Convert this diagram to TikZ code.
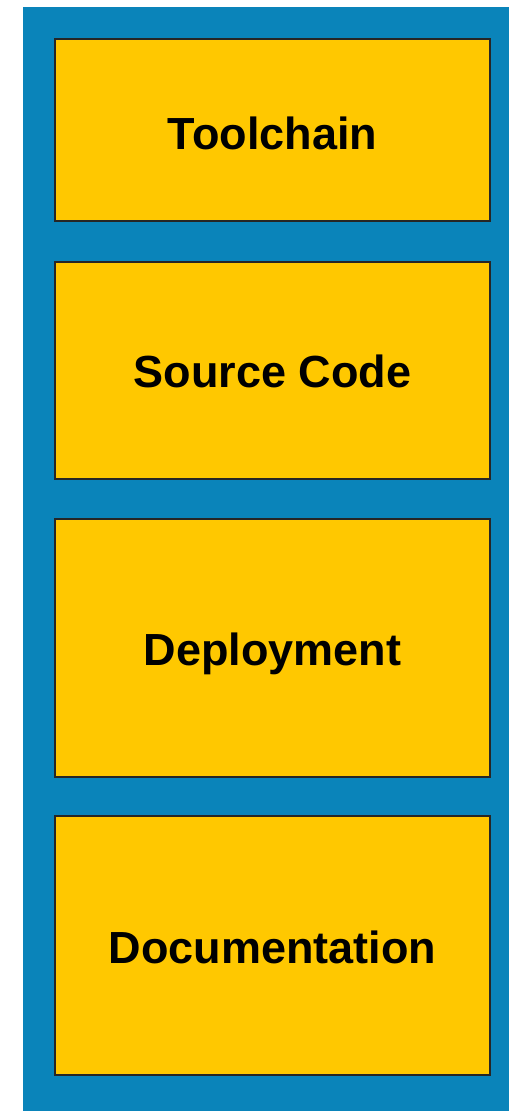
\documentclass[tikz,border=0pt]{standalone}
\usepackage{fontspec}
\setmainfont{Liberation Sans}
\definecolor{panelblue}{RGB}{10,132,186}
\definecolor{boxyellow}{RGB}{255,200,0}
\tikzset{
  layerbox/.style={draw=black!85, line width=1.3pt, fill=boxyellow},
  layerlabel/.style={font=\fontsize{45}{54}\selectfont\bfseries, text=black,
    anchor=base, inner sep=0pt}
}
\begin{document}
\begin{tikzpicture}[x=1pt,y=-1pt]
  \useasboundingbox (0,0) rectangle (509,1111);
  % outer panel, running off the right and bottom edges
  \fill[panelblue] (23,7) rectangle (509,1111);
  % stacked layers
  \draw[layerbox] (55,39) rectangle (490,221);
  \draw[layerbox] (55,262) rectangle (490,479);
  \draw[layerbox] (55,519) rectangle (490,777);
  \draw[layerbox] (55,816) rectangle (490,1075);
  % labels, placed on their baselines
  \node[layerlabel] (toolchain) at (272.5,149) {Toolchain};
  \node[layerlabel] (source) at (272.5,387) {Source Code};
  \node[layerlabel] (deploy) at (272.5,665) {Deployment};
  \node[layerlabel] (docs) at (272.5,963) {Documentation};
\end{tikzpicture}
\end{document}
